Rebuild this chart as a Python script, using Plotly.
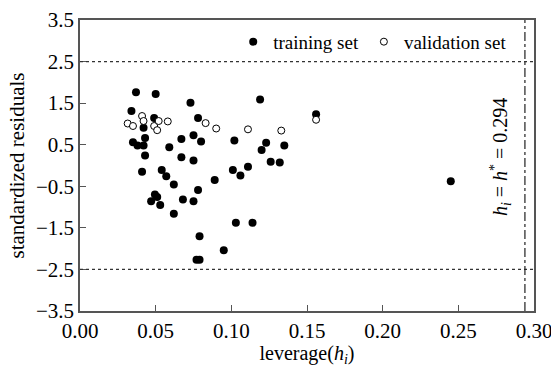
import plotly.graph_objects as go

# Training set (filled)
train_h = [0.037, 0.050, 0.034, 0.049, 0.073, 0.078, 0.042, 0.035, 0.038, 0.043,
           0.042, 0.059, 0.067, 0.075, 0.080, 0.043, 0.067, 0.075, 0.041, 0.054,
           0.057, 0.062, 0.089, 0.102, 0.101, 0.106, 0.111, 0.119, 0.120, 0.123,
           0.126, 0.132, 0.135, 0.156, 0.245, 0.047, 0.0495, 0.051, 0.053, 0.068,
           0.062, 0.075, 0.078, 0.079, 0.077, 0.079, 0.095, 0.103, 0.114]
train_r = [1.76, 1.72, 1.31, 1.14, 1.51, 1.14, 0.91, 0.56, 0.48, 0.66,
           0.48, 0.44, 0.64, 0.73, 0.58, 0.24, 0.20, 0.12, -0.15, -0.11,
           -0.26, -0.46, -0.35, 0.60, -0.11, -0.24, -0.03, 1.59, 0.37, 0.55,
           0.09, 0.07, 0.48, 1.23, -0.38, -0.86, -0.70, -0.76, -0.95, -0.82,
           -1.16, -0.86, -0.59, -1.70, -2.27, -2.27, -2.04, -1.38, -1.38]

# Validation set (open)
valid_h = [0.0315, 0.035, 0.041, 0.042, 0.049, 0.051, 0.052, 0.058, 0.083, 0.090,
           0.111, 0.133, 0.156]
valid_r = [1.01, 0.95, 1.19, 1.07, 0.95, 0.85, 1.07, 1.06, 1.02, 0.89,
           0.87, 0.84, 1.10]

h_star = 0.294
res_limit = 2.5
x_ticks = [0.00, 0.05, 0.10, 0.15, 0.20, 0.25, 0.30]
y_ticks = [3.5, 2.5, 1.5, 0.5, -0.5, -1.5, -2.5, -3.5]

FONT = "Liberation Serif"

fig = go.Figure()
fig.add_trace(go.Scatter(
    x=train_h, y=train_r, mode="markers", name="training set",
    marker=dict(symbol="circle", size=8, color="black", line=dict(width=0))))
fig.add_trace(go.Scatter(
    x=valid_h, y=valid_r, mode="markers", name="validation set",
    marker=dict(symbol="circle", size=7, color="white", line=dict(width=1, color="black"))))

for yv in (res_limit, -res_limit):
    fig.add_hline(y=yv, line=dict(color="#333", width=1.2, dash="dot"))
fig.add_vline(x=h_star, line=dict(color="#222", width=1.2, dash="dashdot"))

fig.add_annotation(
    x=h_star, y=0.2, xref="x", yref="y", xanchor="right", yanchor="middle",
    xshift=-8, showarrow=False, textangle=-90,
    text="<i>h</i><sub><i>i</i></sub> = <i>h</i><sup>*</sup> = 0.294",
    font=dict(family=FONT, size=20, color="black"))

fig.update_xaxes(
    range=[0, 0.30], tickvals=x_ticks, ticktext=[f"{v:.2f}" for v in x_ticks],
    showgrid=False, zeroline=False, showline=True, linecolor="#555", linewidth=1.5,
    mirror=True, ticks="inside", ticklen=6, tickcolor="#555", automargin=False,
    ticklabeloverflow="allow",
    tickfont=dict(family=FONT, size=21, color="black"),
    title=dict(text="leverage(<i>h</i><sub><i>i</i></sub>)", standoff=2,
               font=dict(family=FONT, size=20, color="black")))
fig.update_yaxes(
    range=[-3.5, 3.5], tickvals=y_ticks,
    ticktext=[f"{v:.1f}".replace("-", "\u2212") for v in y_ticks],
    showgrid=False, zeroline=False, showline=True, linecolor="#555", linewidth=1.5,
    mirror=True, ticks="inside", ticklen=6, tickcolor="#555", automargin=False,
    ticklabeloverflow="allow",
    tickfont=dict(family=FONT, size=21, color="black"),
    title=dict(text="standardized residuals", standoff=6,
               font=dict(family=FONT, size=21, color="black")))

fig.update_layout(
    width=551, height=367, margin=dict(l=80, r=17, t=20, b=56, autoexpand=False),
    plot_bgcolor="white", paper_bgcolor="white",
    font=dict(family=FONT, size=19, color="black"),
    showlegend=True,
    legend=dict(orientation="h", x=0.952, y=0.925, xanchor="right", yanchor="middle",
                bgcolor="rgba(0,0,0,0)", font=dict(family=FONT, size=19),
                itemwidth=30, tracegroupgap=0))

fig.write_html("out.html")
